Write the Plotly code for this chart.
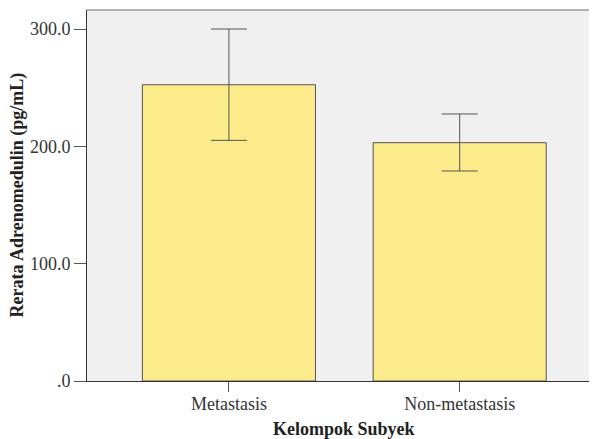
import plotly.graph_objects as go

categories = ["Metastasis", "Non-metastasis"]
means = [252.5, 203.1]
err_upper = [300.0, 227.6]
err_lower = [205.1, 179.0]
y_tickvals = [0, 100, 200, 300]
y_ticktext = [".0", "100.0", "200.0", "300.0"]

plus = [u - m for u, m in zip(err_upper, means)]
minus = [m - l for m, l in zip(means, err_lower)]

fig = go.Figure(go.Bar(
    x=[0, 1], y=means, width=0.75,
    marker=dict(color="#FCEB8B", line=dict(color="#555555", width=1)),
    error_y=dict(type="data", array=plus, arrayminus=minus, visible=True,
                 color="#555555", thickness=1, width=18),
))

font_family = "Liberation Serif"
fig.update_layout(
    width=589, height=431,
    margin=dict(l=79, r=0, t=2, b=58),
    paper_bgcolor="white", plot_bgcolor="#F0F0F0",
    font=dict(family=font_family, size=18, color="#333333"),
    showlegend=False,
    xaxis=dict(
        range=[-0.615, 1.595], tickvals=[0, 1], ticktext=categories,
        showline=True, linecolor="#333333", linewidth=1,
        ticks="outside", ticklen=10, tickcolor="#555555",
        showgrid=False, zeroline=False, automargin=False,
        ticklabelstandoff=-4,
        tickfont=dict(size=18),
    ),
    yaxis=dict(
        range=[0, 316.2], tickvals=y_tickvals, ticktext=y_ticktext,
        showline=True, linecolor="#333333", linewidth=1,
        ticks="outside", ticklen=12, tickcolor="#555555",
        showgrid=False, zeroline=False, automargin=False,
        tickfont=dict(size=18),
    ),
    annotations=[
        dict(text="<b>Kelompok Subyek</b>", xref="paper", yref="paper",
             x=0.504, y=0, yshift=-48, xanchor="center", yanchor="middle",
             showarrow=False, font=dict(family=font_family, size=18, color="#222222")),
        dict(text="<b>Rerata Adrenomedulin (pg/mL)</b>", xref="paper", yref="paper",
             x=0, xshift=-70, y=0.5, xanchor="center", yanchor="middle",
             textangle=-90, showarrow=False,
             font=dict(family=font_family, size=18, color="#222222")),
    ],
    shapes=[dict(type="line", xref="paper", yref="paper", x0=0, x1=1, y0=1, y1=1,
                 line=dict(color="#999999", width=1.5))],
)

fig.write_html("out.html")
